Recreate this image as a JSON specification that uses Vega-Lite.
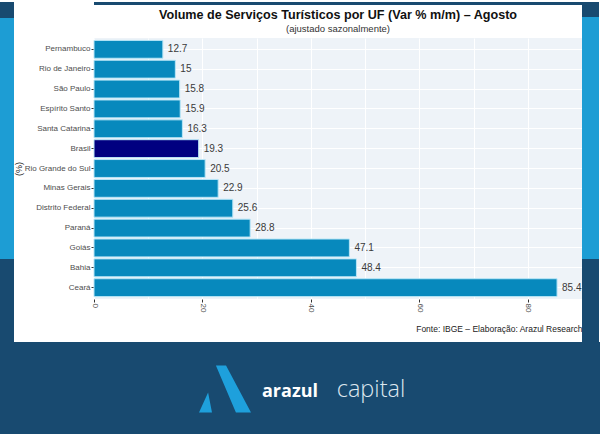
{
  "$schema": "https://vega.github.io/schema/vega-lite/v6.json",
  "padding": 0,
  "background": "#ffffff",
  "spacing": 0,
  "config": {
    "view": {"stroke": null},
    "font": "Liberation Sans",
    "concat": {"spacing": 0}
  },
  "datasets": {
    "uf": [
      {"uf": "Pernambuco", "value": 12.7},
      {"uf": "Rio de Janeiro", "value": 15},
      {"uf": "São Paulo", "value": 15.8},
      {"uf": "Espírito Santo", "value": 15.9},
      {"uf": "Santa Catarina", "value": 16.3},
      {"uf": "Brasil", "value": 19.3},
      {"uf": "Rio Grande do Sul", "value": 20.5},
      {"uf": "Minas Gerais", "value": 22.9},
      {"uf": "Distrito Federal", "value": 25.6},
      {"uf": "Paraná", "value": 28.8},
      {"uf": "Goiás", "value": 47.1},
      {"uf": "Bahia", "value": 48.4},
      {"uf": "Ceará", "value": 85.4}
    ],
    "blank": [{"k": 1}],
    "logo": [
      {"part": "icon"},
      {"part": "arazul"},
      {"part": "capital"}
    ]
  },
  "vconcat": [
    {
      "hconcat": [
        {
          "vconcat": [
            {"width": 14, "height": 16, "data": {"name": "blank"}, "mark": {"type": "point", "opacity": 0}, "encoding": {}, "view": {"fill": "#184a70", "stroke": null}},
            {"width": 14, "height": 241, "data": {"name": "blank"}, "mark": {"type": "point", "opacity": 0}, "encoding": {}, "view": {"fill": "#1d9dd4", "stroke": null}},
            {"width": 14, "height": 83, "data": {"name": "blank"}, "mark": {"type": "point", "opacity": 0}, "encoding": {}, "view": {"fill": "#184a70", "stroke": null}}
          ]
        },
        {
          "spacing": 1,
          "vconcat": [
            {"width": 488, "height": 3, "data": {"name": "blank"}, "mark": {"type": "point", "opacity": 0}, "encoding": {}, "view": {"fill": "#184a70", "stroke": null}},
            {
              "width": 488,
              "height": 261,
              "view": {"fill": "#eef3f8", "stroke": null},
              "title": {
                "text": "Volume de Serviços Turísticos por UF (Var % m/m) – Agosto",
                "subtitle": "(ajustado sazonalmente)",
                "anchor": "middle",
                "fontSize": 12.6,
                "fontWeight": "bold",
                "color": "#111111",
                "subtitleFontSize": 9.5,
                "subtitleColor": "#333333",
                "subtitlePadding": 2,
                "offset": 5
              },
              "data": {"name": "uf"},
              "encoding": {
                "y": {
                  "field": "uf",
                  "type": "nominal",
                  "sort": {"field": "value", "order": "ascending"},
                  "scale": {"paddingInner": 0.1, "paddingOuter": 0.12},
                  "axis": {
                    "title": "(%)",
                    "titleFontSize": 9,
                    "titleFontWeight": "normal",
                    "titleColor": "#222222",
                    "titlePadding": 4,
                    "minExtent": 67,
                    "maxExtent": 67,
                    "labelFontSize": 8,
                    "labelColor": "#4d4d4d",
                    "labelPadding": 1,
                    "tickSize": 3,
                    "tickColor": "#333333",
                    "domain": false,
                    "grid": true,
                    "gridColor": "#ffffff",
                    "gridWidth": 1,
                    "bandPosition": 0.5
                  }
                },
                "x": {
                  "field": "value",
                  "type": "quantitative",
                  "scale": {"domain": [0, 90], "nice": false, "zero": true},
                  "axis": {
                    "values": [0, 10, 20, 30, 40, 50, 60, 70, 80, 90],
                    "labelExpr": "(datum.value % 20 === 0 && datum.value < 90) ? datum.label : ''",
                    "tickOpacity": {"condition": {"test": "datum.value % 20 !== 0 || datum.value >= 90", "value": 0}, "value": 1},
                    "labelAngle": 90,
                    "labelFontSize": 8,
                    "labelColor": "#4d4d4d",
                    "labelPadding": 1,
                    "tickSize": 3,
                    "tickColor": "#333333",
                    "domain": false,
                    "grid": true,
                    "gridColor": "#ffffff",
                    "gridWidth": 1,
                    "title": "Fonte: IBGE – Elaboração: Arazul Research",
                    "titleAnchor": "end",
                    "titleFontSize": 8.5,
                    "titleFontWeight": "normal",
                    "titleColor": "#222222",
                    "titlePadding": 13
                  }
                }
              },
              "layer": [
                {
                  "mark": {"type": "bar", "stroke": "#b8e6f7", "strokeWidth": 1},
                  "encoding": {
                    "color": {
                      "condition": {"test": "datum.uf === 'Brasil'", "value": "#000080"},
                      "value": "#0789bd"
                    }
                  }
                },
                {
                  "mark": {"type": "text", "align": "left", "baseline": "middle", "dx": 5, "fontSize": 10, "color": "#3a3a3a"},
                  "encoding": {"text": {"field": "value", "type": "quantitative"}}
                }
              ]
            }
          ]
        },
        {
          "vconcat": [
            {"width": 17, "height": 15, "data": {"name": "blank"}, "mark": {"type": "point", "opacity": 0}, "encoding": {}, "view": {"fill": "#184a70", "stroke": null}},
            {"width": 17, "height": 242, "data": {"name": "blank"}, "mark": {"type": "point", "opacity": 0}, "encoding": {}, "view": {"fill": "#1d9dd4", "stroke": null}},
            {"width": 17, "height": 83, "data": {"name": "blank"}, "mark": {"type": "point", "opacity": 0}, "encoding": {}, "view": {"fill": "#184a70", "stroke": null}}
          ]
        }
      ]
    },
    {
      "width": 600,
      "height": 94,
      "view": {"fill": "#184a70", "stroke": null},
      "data": {"name": "logo"},
      "encoding": {
        "x": {
          "field": "part",
          "type": "nominal",
          "scale": {"type": "band", "domain": ["s0", "s1", "icon", "arazul", "capital", "s5", "s6"], "paddingInner": 0, "paddingOuter": 0.5},
          "axis": null
        }
      },
      "layer": [
        {
          "transform": [{"filter": "datum.part === 'icon'"}],
          "mark": {
            "type": "point",
            "shape": "M-0.35,-0.9 L0.04,-0.9 L1,0.9 L0.42,0.9 Z M-1,0.9 L-0.65,0.13 L-0.5,0.9 Z",
            "size": 2704,
            "filled": true,
            "color": "#1ea0dc",
            "opacity": 1,
            "strokeWidth": 0
          },
          "encoding": {}
        },
        {
          "transform": [{"filter": "datum.part === 'arazul'"}],
          "mark": {"type": "text", "font": "Open Sans", "fontSize": 18, "fontWeight": "bold", "letterSpacing": -0.2, "color": "#ffffff", "baseline": "alphabetic", "align": "center", "dx": -10, "dy": 8},
          "encoding": {"text": {"field": "part"}}
        },
        {
          "transform": [{"filter": "datum.part === 'capital'"}],
          "mark": {"type": "text", "font": "Open Sans", "fontSize": 23.5, "fontWeight": 300, "color": "#dde7ef", "baseline": "alphabetic", "align": "center", "dx": -4, "dy": 8},
          "encoding": {"text": {"field": "part"}}
        }
      ]
    }
  ]
}
